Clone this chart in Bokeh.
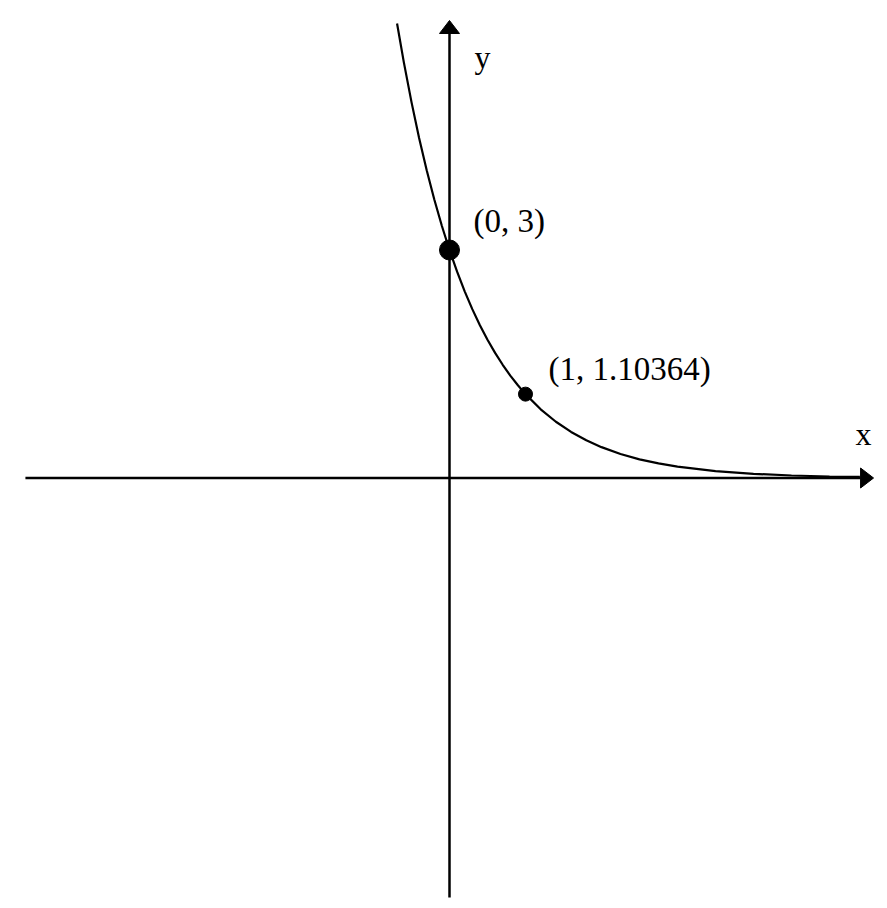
from bokeh.plotting import figure
from bokeh.models import Range1d
from bokeh.embed import file_html
from bokeh.resources import INLINE
from bokeh.core.properties import value

# Curve y = 3*b^x
curve_x = [-0.69, -0.6, -0.5, -0.4, -0.3, -0.2, -0.1, 0.0, 0.1, 0.2, 0.3, 0.4, 0.5,
           0.6, 0.7, 0.8, 0.9, 1.0, 1.2, 1.4, 1.6, 1.8, 2.0, 2.25, 2.5, 2.75, 3.0,
           3.5, 4.0, 4.5, 5.0, 5.4]
curve_y = [5.981, 5.466, 4.946, 4.475, 4.050, 3.664, 3.316, 3.000, 2.715, 2.456,
           2.222, 2.011, 1.820, 1.646, 1.490, 1.348, 1.220, 1.10364, 0.904, 0.740,
           0.606, 0.496, 0.406, 0.316, 0.246, 0.192, 0.149, 0.091, 0.055, 0.033,
           0.020, 0.014]

# Marked points and labels
point_x = [0, 1]
point_y = [3, 1.10364]
point_labels = ["(0, 3)", "(1, 1.10364)"]
point_sizes = [20, 14]

# Axis extents
x_axis_extent = [-5.58, 5.58]
y_axis_extent = [-5.52, 6.02]
axis_names = ["x", "y"]

W, H = 879, 900
p = figure(width=W, height=H, output_backend="svg", toolbar_location=None,
           x_range=Range1d(-5.908, 5.658), y_range=Range1d(-5.559, 6.283),
           min_border=0, background_fill_color="white", border_fill_color="white")
p.axis.visible = False
p.grid.visible = False
p.outline_line_color = None

ux = 1 / 76.0  # one pixel in data units

# axes
head_len = 13 * ux
head_half = 10 * ux
p.line([x_axis_extent[0], x_axis_extent[1] - head_len], [0, 0], line_color="black", line_width=2.5)
p.line([0, 0], [y_axis_extent[0], y_axis_extent[1] - head_len], line_color="black", line_width=2.5)
p.patch([x_axis_extent[1], x_axis_extent[1] - head_len, x_axis_extent[1] - head_len],
        [0, head_half, -head_half], fill_color="black", line_color="black", line_width=1)
p.patch([0, head_half, -head_half],
        [y_axis_extent[1], y_axis_extent[1] - head_len, y_axis_extent[1] - head_len],
        fill_color="black", line_color="black", line_width=1)

# curve
p.line(curve_x, curve_y, line_color="black", line_width=2.2)

# points
p.scatter(point_x, point_y, size=point_sizes, fill_color="black", line_color="black")

font = value("Liberation Serif")
p.text([point_x[0] + 0.316, point_x[1] + 0.303], [point_y[0] + 0.387, point_y[1] + 0.335],
       text=point_labels, text_font=font, text_font_size="33px", text_color="black",
       text_align="left", text_baseline="alphabetic")

p.text([5.342, 0.33], [0.584, 5.544], text=axis_names, text_font=font,
       text_font_size="32px", text_color="black", text_align="left",
       text_baseline="alphabetic")

open("out.html", "w").write(file_html(p, INLINE))
